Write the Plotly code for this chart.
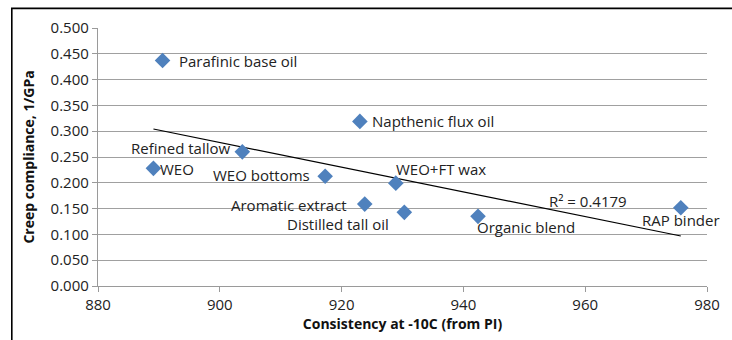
import numpy as np
import plotly.graph_objects as go

# Binder / additive samples
names = ["Parafinic base oil", "Refined tallow", "WEO", "WEO bottoms",
         "Aromatic extract", "Napthenic flux oil", "WEO+FT wax",
         "Distilled tall oil", "Organic blend", "RAP binder"]
consistency = [890.6, 903.7, 889.1, 917.3, 923.8, 923.0, 928.9, 930.3, 942.4, 975.7]
compliance = [0.437, 0.260, 0.228, 0.2126, 0.1587, 0.319, 0.1993, 0.1427, 0.135, 0.1517]

x_ticks = [880, 900, 920, 940, 960, 980]
y_ticks = [0.0, 0.05, 0.10, 0.15, 0.20, 0.25, 0.30, 0.35, 0.40, 0.45, 0.50]
r2_label = "R² = 0.4179"

# label placement per point: (xanchor, yanchor, xshift, yshift)
label_pos = {
    "Parafinic base oil": ("left", "middle", 14, 0),
    "Refined tallow": ("right", "middle", -10, 4),
    "WEO": ("left", "middle", 5, -1),
    "WEO bottoms": ("right", "middle", -13, 1),
    "Aromatic extract": ("right", "middle", -16, -1),
    "Napthenic flux oil": ("left", "middle", 10, 0),
    "WEO+FT wax": ("left", "middle", -2, 14),
    "Distilled tall oil": ("right", "middle", -13, -12),
    "Organic blend": ("left", "middle", -3, -11),
    "RAP binder": ("center", "middle", 0, -12),
}

FONT = "Open Sans"
fs = 15

# linear trendline
xs = np.array(consistency)
ys = np.array(compliance)
slope, intercept = np.polyfit(xs, ys, 1)
tx = np.array([xs.min(), xs.max()])
ty = slope * tx + intercept

fig = go.Figure()
fig.add_trace(go.Scatter(x=tx, y=ty, mode="lines",
                         line=dict(color="black", width=1.2),
                         hoverinfo="skip", showlegend=False))
fig.add_trace(go.Scatter(x=consistency, y=compliance, mode="markers",
                         marker=dict(symbol="diamond", size=12, color="#4F81BD",
                                     line=dict(width=0)),
                         text=names, showlegend=False))

for n, xv, yv in zip(names, consistency, compliance):
    xa, ya, dx, dy = label_pos[n]
    fig.add_annotation(x=xv, y=yv, text=n, showarrow=False,
                       xanchor=xa, yanchor=ya, xshift=dx, yshift=dy,
                       font=dict(family=FONT, size=fs, color="#222222"))

fig.add_annotation(x=960.4, y=0.165, text=r2_label, showarrow=False,
                   xanchor="center", yanchor="middle",
                   font=dict(family=FONT, size=fs, color="#222222"))

# pixel -> paper helpers for the outer frame
L, R, T, B = 98, 19.3, 28, 49.3
W, H = 732, 340
pw, ph = W - L - R, H - T - B
def px(v):
    return (v - L) / pw
def py(v):
    return (H - B - v) / ph

fig.add_shape(type="rect", xref="paper", yref="paper",
              x0=px(11), x1=px(760), y0=py(360), y1=py(8),
              line=dict(color="black", width=1.6), layer="below")

fig.update_layout(
    width=W, height=H,
    margin=dict(l=L, r=R, t=T, b=B),
    paper_bgcolor="white", plot_bgcolor="white",
    font=dict(family=FONT, size=fs, color="#222222"),
    xaxis=dict(range=[880, 980], tickvals=x_ticks, ticktext=[str(v) for v in x_ticks],
               showgrid=False, zeroline=False, showline=True,
               linecolor="#9a9a9a", linewidth=1.3,
               ticks="outside", ticklen=5, tickcolor="#9a9a9a", tickwidth=1.3,
               tickfont=dict(family=FONT, size=fs, color="#222222"),
               title=dict(text="<b>Consistency at -10C (from PI)</b>", standoff=4,
                          font=dict(family=FONT, size=14, color="#111111"))),
    yaxis=dict(range=[0, 0.5], tickvals=y_ticks, ticktext=[f"{v:.3f}" for v in y_ticks],
               showgrid=True, gridcolor="#a0a0a0", gridwidth=1.3,
               zeroline=False, showline=True,
               linecolor="#9a9a9a", linewidth=1.3,
               ticks="outside", ticklen=5, tickcolor="#9a9a9a", tickwidth=1.3,
               tickfont=dict(family=FONT, size=fs, color="#222222"),
               title=dict(text="<b>Creep compliance, 1/GPa</b>", standoff=12,
                          font=dict(family=FONT, size=14, color="#111111"))),
)

fig.write_html("out.html")
